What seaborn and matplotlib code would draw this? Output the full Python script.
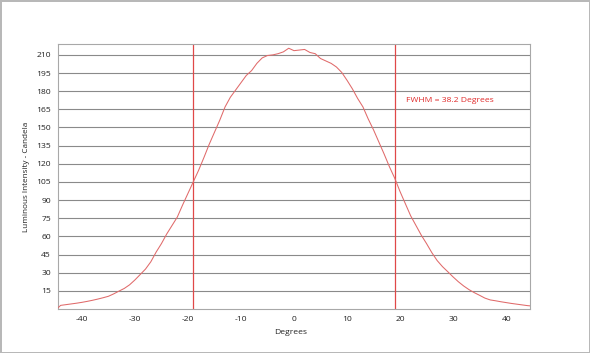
import matplotlib
matplotlib.use("Agg")
import matplotlib.pyplot as plt
import seaborn as sns
import pandas as pd

degrees = [-44.5, -44, -43, -42, -41, -40, -39, -38, -37, -36, -35, -34, -33, -32, -31,
           -30, -29, -28, -27, -26, -25, -24, -23, -22, -21, -20, -19, -18, -17, -16,
           -15, -14, -13, -12, -11, -10, -9, -8, -7, -6, -5, -4, -3, -2, -1, 0,
           1, 2, 3, 4, 5, 6, 7, 8, 9, 10, 11, 12, 13, 14, 15, 16, 17, 18, 19, 20,
           21, 22, 23, 24, 25, 26, 27, 28, 29, 30, 31, 32, 33, 34, 35, 36, 37, 38,
           39, 40, 41, 42, 43, 44, 44.5]
candela = [1.0, 3.0, 3.6, 4.2, 4.8, 5.5, 6.3, 7.2, 8.2, 9.3, 10.5, 12.5, 14.8, 17, 20,
           24, 28.5, 33, 39, 47, 54, 62, 69, 76, 86, 95.5, 105, 114.5, 125, 136,
           146, 156, 167, 175, 181, 187, 193, 197, 203, 207.5, 209.5, 210, 211, 212.5, 215.5, 213.5,
           214, 214.5, 212, 211, 207, 205, 203, 200, 195.5, 189, 182, 174, 167, 157, 148, 138, 128, 117.5, 108, 97,
           87, 77, 69, 61, 54, 46.5, 40, 35, 30.8, 26.5, 22.5, 19, 16, 13.5, 11.3, 9, 7.5, 6.8,
           6, 5.3, 4.6, 4.0, 3.4, 2.8, 2.6]
fwhm_edges = [-19.1, 19.1]
x_ticks = [-40, -30, -20, -10, 0, 10, 20, 30, 40]
y_ticks = [15, 30, 45, 60, 75, 90, 105, 120, 135, 150, 165, 180, 195, 210]
annotation = "FWHM = 38.2 Degrees"

sns.set_theme(style="white")
plt.rcParams['font.family'] = ['Open Sans', 'DejaVu Sans']

df = pd.DataFrame({"Degrees": degrees, "Candela": candela})

fig = plt.figure(figsize=(5.9, 3.53), dpi=100, edgecolor="#b8b8b8", linewidth=2)
ax = fig.add_axes([58/590, 1 - 309/353, 472/590, 265/353])

for yt in y_ticks:
    ax.axhline(yt, color="#8a8a8a", lw=0.8, zorder=1)

sns.lineplot(data=df, x="Degrees", y="Candela", ax=ax, color="#e06a6a", lw=0.75, zorder=3)

for xv in fwhm_edges:
    ax.axvline(xv, color="#e04848", lw=0.9, zorder=2)

fs = 6.1
ax.text(21.2, 172, annotation, color="#e02a2a", fontsize=fs, va="center", ha="left")

ax.set_xlim(-44.5, 44.5)
ax.set_ylim(0, 219)
ax.set_xticks(x_ticks)
ax.set_yticks(y_ticks)
ax.set_xticklabels([str(v) for v in x_ticks], fontsize=fs, color="#222222")
ax.set_yticklabels([str(v) for v in y_ticks], fontsize=fs, color="#222222")
ax.tick_params(axis="both", direction="out", length=3, width=0.8, color="#8a8a8a", pad=2)
ax.set_xlabel("Degrees", fontsize=fs, color="#222222")
ax.set_ylabel("Luminous Intensity - Candela", fontsize=5.9, color="#222222")
ax.xaxis.set_label_coords(0.493, -0.074)
ax.yaxis.set_label_coords(-0.059, 0.5)

for s in ax.spines.values():
    s.set_color("#a8a8a8")
    s.set_linewidth(0.8)

fig.savefig("out.png", dpi=100, edgecolor=fig.get_edgecolor())
